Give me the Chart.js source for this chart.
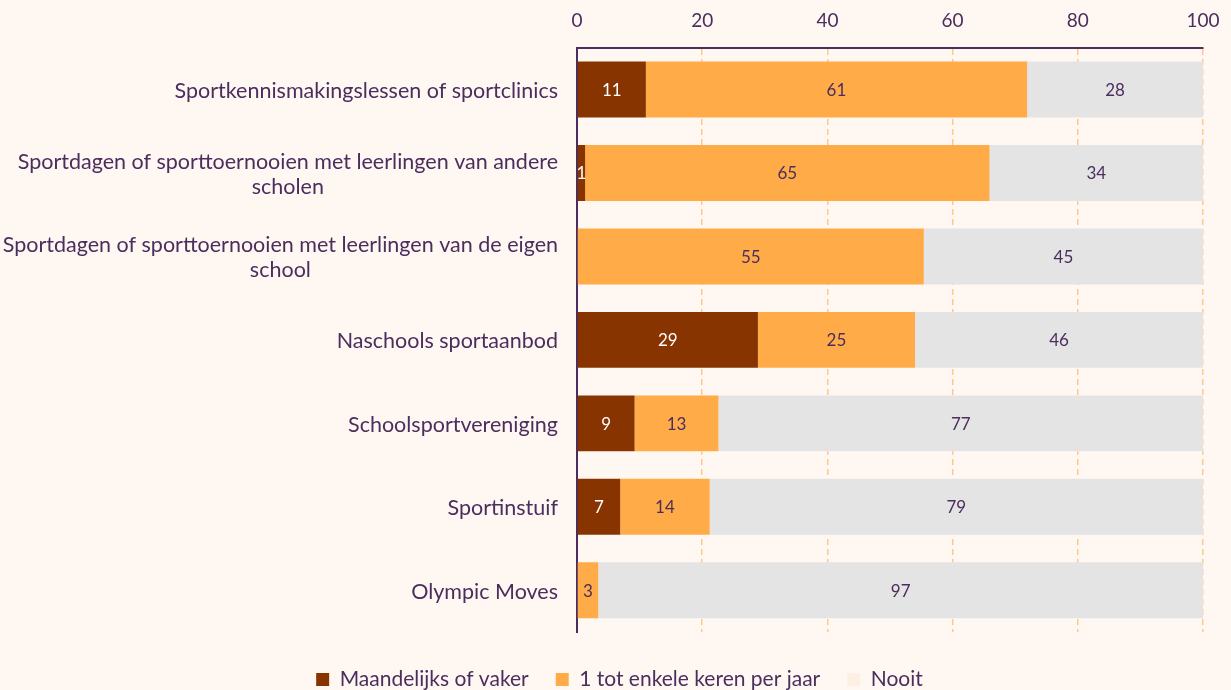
<!DOCTYPE html>
<html>
<head>
<meta charset="utf-8">
<script src="https://cdn.jsdelivr.net/npm/chart.js@4.4.0/dist/chart.umd.min.js"></script>
<style>
  html, body { margin: 0; padding: 0; background: #fff8f2; }
  #wrap { width: 1231px; height: 690px; position: relative; }
</style>
</head>
<body>
<div id="wrap"><canvas id="c" width="1231" height="690"></canvas></div>
<script>
const categories = [
  ["Sportkennismakingslessen of sportclinics"],
  ["Sportdagen of sporttoernooien met leerlingen van andere", "scholen"],
  ["Sportdagen of sporttoernooien met leerlingen van de eigen", "school"],
  ["Naschools sportaanbod"],
  ["Schoolsportvereniging"],
  ["Sportinstuif"],
  ["Olympic Moves"]
];
const seriesNames = ["Maandelijks of vaker", "1 tot enkele keren per jaar", "Nooit"];
const maandelijks = [11.0, 1.3, 0, 28.9, 9.2, 6.9, 0];
const perJaar = [60.9, 64.6, 55.4, 25.1, 13.4, 14.3, 3.4];
const nooit = [28.1, 34.1, 44.6, 46.0, 77.4, 78.8, 96.6];
const xTicks = [0, 20, 40, 60, 80, 100];

const TEXT = '#4b2d5e';
const FONT = 'Lato, "Noto Sans", sans-serif';

const labelsPlugin = {
  id: 'customLabels',
  afterLayout(chart) {
    const lg = chart.legend;
    if (lg) {
      lg.top += 10; lg.bottom += 10;
      lg.left += 18; lg.right += 18;
    }
  },
  afterDatasetsDraw(chart) {
    const ctx = chart.ctx;
    ctx.save();
    ctx.font = '17px ' + FONT;
    ctx.textAlign = 'center';
    ctx.textBaseline = 'middle';
    chart.data.datasets.forEach((ds, di) => {
      const meta = chart.getDatasetMeta(di);
      meta.data.forEach((el, i) => {
        const v = ds.data[i];
        if (!v) return;
        const x = (el.x + el.base) / 2;
        ctx.fillStyle = di === 0 ? '#ffffff' : TEXT;
        ctx.fillText(String(Math.round(v)), x, el.y + 1);
      });
    });
    // category labels
    const ys = chart.scales.y;
    const right = chart.chartArea.left - 19;
    ctx.font = '21.5px ' + FONT;
    ctx.fillStyle = TEXT;
    categories.forEach((lines, i) => {
      const yc = ys.getPixelForValue(i) + 1.5;
      const lh = 25;
      const maxW = Math.max(...lines.map(l => ctx.measureText(l).width));
      const cx = right - maxW / 2;
      const y0 = yc - (lines.length - 1) * lh / 2;
      lines.forEach((l, k) => {
        ctx.fillText(l, cx, y0 + k * lh);
      });
    });
    ctx.restore();
  }
};

new Chart(document.getElementById('c'), {
  type: 'bar',
  data: {
    labels: categories.map(c => c.join(' ')),
    datasets: [
      { label: seriesNames[0], data: maandelijks, backgroundColor: '#873400' },
      { label: seriesNames[1], data: perJaar, backgroundColor: '#ffab48' },
      { label: seriesNames[2], data: nooit, backgroundColor: '#e4e4e4' }
    ]
  },
  options: {
    indexAxis: 'y',
    responsive: false,
    animation: false,
    devicePixelRatio: 1,
    layout: { padding: { left: 0, right: 28, top: -7, bottom: 0 } },
    datasets: { bar: { barPercentage: 0.67, categoryPercentage: 1 } },
    scales: {
      x: {
        position: 'top',
        stacked: true,
        min: 0, max: 100,
        afterBuildTicks(scale) { scale.ticks = xTicks.map(v => ({ value: v })); },
        afterFit(scale) { scale.paddingRight = Math.min(scale.paddingRight, 20); },
        ticks: { color: TEXT, font: { family: FONT, size: 19 }, padding: 16 },
        grid: { color: '#ffc98e', lineWidth: 1.5, drawTicks: false, tickBorderDash: [6, 4] },
        border: { display: true, color: '#4b2d5e', width: 2, dash: [6, 4] }
      },
      y: {
        stacked: true,
        ticks: { display: false },
        grid: { display: false },
        border: { display: true, color: '#4b2d5e', width: 2 },
        afterFit(scale) { scale.width = 577; }
      }
    },
    plugins: {
      legend: {
        position: 'bottom',
        labels: {
          color: TEXT,
          font: { family: FONT, size: 21 },
          boxWidth: 13, boxHeight: 13,
          padding: 27,
          generateLabels(chart) {
            const items = Chart.defaults.plugins.legend.labels.generateLabels(chart);
            items.forEach(it => { it.lineWidth = 0; });
            if (items[2]) { items[2].fillStyle = '#fdefe4'; items[2].strokeStyle = '#fdefe4'; }
            return items;
          }
        }
      },
      tooltip: { enabled: false }
    }
  },
  plugins: [labelsPlugin]
});
</script>
</body>
</html>
